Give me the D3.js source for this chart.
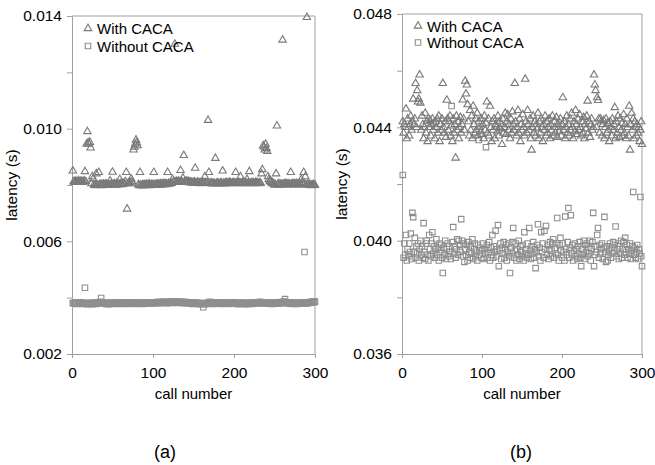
<!DOCTYPE html>
<html><head><meta charset="utf-8">
<script src="https://cdn.jsdelivr.net/npm/d3@7"></script>
<style>
body{margin:0;background:#fff}
svg{display:block}
text{font-family:"Liberation Sans",Arial,Helvetica,sans-serif;fill:#000}
</style>
</head><body>
<svg id="chart" width="655" height="465"></svg>
<script>
// ---- data (latency in milliseconds, one value per call 1..300) ----
const withCacaA = [
8.50,8.12,8.10,8.14,8.11,8.13,8.10,8.15,8.12,8.11,8.13,8.14,8.10,8.12,8.15,8.48,8.12,9.45,9.90,9.50,
9.45,9.52,9.32,8.05,8.30,8.22,8.02,7.98,8.00,8.40,8.01,7.99,8.45,8.02,8.00,8.03,7.98,8.01,8.04,8.00,
8.02,8.05,7.99,8.01,8.03,8.00,8.15,8.02,8.04,8.46,8.01,8.05,8.02,8.00,8.06,8.03,8.01,8.04,8.20,8.05,
8.03,8.02,8.07,8.04,8.05,8.12,8.45,7.15,8.05,8.07,8.10,8.08,8.22,8.12,8.05,9.25,9.35,9.45,9.60,9.50,
9.40,8.02,7.98,8.45,8.00,7.97,8.01,7.99,8.02,7.98,8.00,8.03,7.99,8.01,8.05,7.98,8.00,8.02,7.99,8.03,
8.45,8.00,8.02,7.99,8.04,8.01,8.03,8.00,8.05,8.02,8.04,8.01,8.06,8.03,8.05,8.02,8.04,8.45,8.06,8.03,
8.05,8.08,8.06,8.20,8.10,8.12,13.00,8.11,8.13,8.10,8.14,8.12,8.11,8.52,8.13,8.10,8.25,9.05,8.12,8.11,
8.14,8.10,8.13,8.12,8.09,8.11,8.08,8.10,8.07,8.09,8.11,8.60,8.08,8.06,8.10,8.07,8.09,8.05,8.08,8.06,
8.10,8.07,8.09,8.30,8.08,8.06,8.09,10.30,8.45,8.07,8.05,8.08,8.06,8.04,8.07,8.05,8.95,8.06,8.08,8.05,
8.07,8.04,8.06,8.09,8.05,8.50,8.07,8.04,8.08,8.06,8.09,8.05,8.07,8.10,8.06,8.08,8.05,8.07,8.09,8.06,
8.08,8.45,8.07,8.05,8.09,8.06,8.08,8.30,8.05,8.07,8.09,8.06,8.08,8.05,8.07,8.20,8.06,8.08,8.48,8.05,
8.07,8.09,8.06,8.08,8.05,8.07,8.10,8.06,8.08,8.05,8.07,8.09,8.06,8.40,8.55,9.40,9.35,9.25,9.45,9.30,
9.20,8.30,8.20,8.15,8.12,8.10,8.05,8.08,8.04,8.00,8.02,8.40,10.10,8.02,8.05,8.01,8.03,8.00,8.04,13.15,
8.02,8.05,8.03,8.06,8.02,8.04,8.01,8.05,8.03,8.45,8.02,8.06,8.04,8.01,8.05,8.03,8.06,8.02,8.04,8.01,
8.05,8.03,8.20,8.06,8.02,8.45,8.04,8.30,8.01,13.95,8.03,8.00,8.02,7.99,8.01,7.98,8.00,8.02,7.99,8.00];

const withoutCacaA = [
3.80,3.82,3.79,3.83,3.81,3.78,3.82,3.80,3.84,3.79,3.81,3.83,3.78,3.80,3.82,4.35,3.79,3.81,3.77,3.80,
3.78,3.82,3.79,3.81,3.77,3.80,3.83,3.79,3.81,3.78,3.82,3.80,3.84,3.81,3.85,3.99,3.82,3.80,3.83,3.79,
3.81,3.78,3.82,3.80,3.77,3.81,3.79,3.83,3.78,3.80,3.82,3.79,3.81,3.84,3.80,3.78,3.82,3.81,3.79,3.83,
3.80,3.82,3.78,3.81,3.84,3.80,3.82,3.79,3.83,3.81,3.78,3.82,3.80,3.84,3.81,3.79,3.83,3.80,3.82,3.78,
3.81,3.83,3.79,3.82,3.80,3.84,3.81,3.78,3.82,3.80,3.83,3.81,3.79,3.82,3.84,3.80,3.82,3.79,3.83,3.81,
3.84,3.82,3.80,3.83,3.81,3.85,3.82,3.80,3.84,3.81,3.83,3.86,3.82,3.84,3.81,3.85,3.83,3.80,3.84,3.82,
3.86,3.83,3.85,3.81,3.87,3.84,3.82,3.86,3.83,3.85,3.81,3.84,3.86,3.82,3.85,3.83,3.80,3.84,3.82,3.85,
3.81,3.83,3.80,3.84,3.82,3.79,3.83,3.81,3.78,3.82,3.80,3.83,3.79,3.81,3.78,3.82,3.80,3.77,3.81,3.79,
3.78,3.66,3.80,3.77,3.81,3.79,3.82,3.78,3.80,3.85,3.79,3.81,3.83,3.80,3.78,3.82,3.79,3.81,3.84,3.80,
3.82,3.79,3.83,3.81,3.78,3.82,3.80,3.84,3.81,3.79,3.83,3.80,3.82,3.78,3.81,3.83,3.79,3.82,3.80,3.84,
3.81,3.79,3.82,3.80,3.77,3.81,3.79,3.83,3.80,3.78,3.82,3.79,3.81,3.77,3.80,3.82,3.78,3.81,3.79,3.83,
3.80,3.78,3.82,3.79,3.81,3.84,3.80,3.82,3.79,3.83,3.81,3.85,3.82,3.80,3.84,3.81,3.83,3.79,3.82,3.80,
3.84,3.81,3.79,3.83,3.80,3.82,3.78,3.81,3.83,3.80,3.82,3.79,3.81,3.84,3.80,3.82,3.79,3.83,3.81,3.85,
3.82,3.86,3.95,3.83,3.80,3.84,3.81,3.79,3.83,3.80,3.82,3.78,3.81,3.83,3.79,3.82,3.80,3.78,3.81,3.79,
3.82,3.80,3.83,3.79,3.81,3.84,5.62,3.80,3.82,3.79,3.83,3.81,3.84,3.82,3.85,3.83,3.86,3.84,3.87,3.85];

const withCacaB = [
44.2,43.8,44.1,44.0,44.65,43.6,44.3,44.0,43.7,44.1,44.4,43.9,44.2,45.0,44.1,44.3,45.55,44.0,45.3,44.9,
45.0,45.85,44.86,43.9,44.4,44.1,43.6,44.0,44.5,43.8,44.2,43.5,44.3,44.0,44.25,43.7,44.1,44.3,43.9,44.15,
43.6,44.2,44.0,44.3,43.8,44.4,43.5,44.1,43.9,44.3,45.55,44.0,43.8,44.2,43.65,44.96,44.3,43.9,44.2,44.4,
43.7,44.05,43.5,44.3,43.8,44.1,42.92,44.4,43.9,44.2,43.6,44.0,44.35,43.8,44.1,44.97,44.3,43.9,45.63,45.18,
45.5,44.8,44.2,43.7,44.6,43.9,44.4,43.6,44.75,44.1,43.8,44.3,43.9,44.5,43.7,44.2,44.0,43.85,44.3,43.75,
44.1,43.6,44.4,43.9,44.15,44.9,43.8,44.3,43.7,44.75,44.0,43.5,44.2,43.9,44.3,43.6,44.1,44.0,43.85,44.4,
43.7,44.2,43.95,44.1,43.4,44.3,43.8,44.0,44.5,43.75,44.2,44.45,43.9,44.1,43.6,44.3,43.8,44.55,44.1,43.9,
45.55,44.2,43.7,44.0,44.6,43.8,44.3,43.5,44.1,43.9,44.45,44.0,43.7,45.7,44.2,43.8,44.6,44.1,43.9,44.3,
43.6,43.2,44.0,44.4,43.8,44.2,43.7,44.1,43.95,44.5,43.6,44.2,43.8,44.3,44.0,43.5,44.1,43.9,44.4,43.7,
44.2,43.8,44.0,44.3,43.6,44.1,43.9,44.4,43.7,44.2,44.0,43.8,44.35,43.65,44.1,44.0,43.85,44.3,43.7,44.1,
45.05,43.9,44.2,43.6,44.0,44.4,43.8,44.1,43.7,44.3,43.9,44.5,44.0,43.6,44.2,43.85,44.6,44.1,43.75,44.3,
43.9,44.45,44.0,43.7,44.2,43.8,44.35,43.6,44.1,43.95,44.4,44.93,43.8,44.2,43.65,44.1,44.3,43.9,44.0,45.85,
45.5,45.3,44.0,45.05,44.95,44.3,43.8,44.3,44.2,43.7,44.1,44.25,43.6,44.0,44.3,43.8,44.15,43.9,43.5,44.2,
44.0,43.7,44.3,43.9,44.1,44.7,43.6,44.2,43.8,44.4,44.0,43.65,44.3,43.9,44.15,43.7,44.45,43.8,44.1,43.6,
44.3,44.0,43.7,44.75,43.2,44.1,44.5,43.9,44.3,43.6,44.2,44.0,43.7,44.1,43.8,44.0,43.5,43.9,44.2,43.4];

const withoutCacaB = [
42.32,39.4,39.9,39.5,40.2,39.3,39.7,39.45,39.9,39.6,40.25,39.35,40.98,40.83,39.6,40.1,39.4,39.8,39.55,39.9,
39.3,39.7,40.0,39.5,39.8,39.4,40.62,39.6,39.35,39.9,40.0,39.5,39.3,40.2,39.7,39.45,39.9,40.3,39.55,39.8,
39.4,39.7,40.05,39.5,39.75,39.3,39.9,39.6,39.85,39.4,38.86,39.75,39.5,40.0,39.35,39.7,39.9,39.45,39.8,39.6,
39.35,44.75,39.95,40.48,39.55,39.8,39.4,39.7,40.05,39.5,40.0,39.85,39.6,40.76,40.0,39.45,39.9,39.25,39.7,39.5,
39.85,39.3,39.95,39.6,39.4,39.8,39.55,40.05,39.35,39.7,39.9,39.45,39.6,39.3,39.85,43.55,39.5,39.75,39.4,39.65,
39.9,39.35,39.7,39.55,43.3,39.85,39.4,39.6,39.95,39.3,39.75,39.5,40.2,39.4,39.8,39.6,40.35,39.45,39.7,40.55,
39.1,39.65,39.9,39.35,39.75,39.55,39.95,39.4,39.7,39.85,39.3,39.6,39.9,39.45,38.86,39.75,39.55,39.95,40.45,39.4,
39.65,39.9,39.3,39.7,39.5,40.0,39.35,39.8,39.6,39.45,39.85,39.3,40.3,39.55,39.7,39.4,39.9,39.5,40.45,39.65,
39.35,39.8,39.55,39.95,39.4,39.7,39.03,39.6,39.85,40.58,39.45,39.75,39.3,40.3,39.6,39.9,39.4,40.35,39.7,40.52,
39.5,39.85,39.35,39.7,39.95,39.45,39.65,39.9,40.05,39.4,39.75,39.55,39.9,40.8,39.5,39.3,39.85,40.1,39.65,39.4,
39.9,39.6,39.3,40.85,39.7,39.5,39.95,41.15,39.4,39.75,40.9,39.55,39.85,39.3,39.65,39.9,39.45,39.7,39.35,39.8,
39.55,39.95,39.4,39.1,39.7,39.5,40.0,39.35,39.85,39.6,39.9,39.45,39.75,39.55,40.0,39.3,39.7,39.95,40.98,39.1,
39.5,39.8,39.6,40.2,40.45,39.4,39.85,39.55,39.7,39.9,39.35,39.75,40.84,39.6,39.25,39.8,39.3,39.5,39.65,39.9,
39.4,39.75,39.55,39.95,39.6,39.85,40.5,39.45,39.7,39.9,39.35,39.8,39.55,40.0,39.4,39.7,39.95,39.5,40.1,39.6,
39.85,39.4,39.7,39.55,39.9,39.35,39.65,39.8,41.72,39.5,39.75,39.4,39.6,39.85,39.35,39.7,39.55,41.54,39.45,39.1];

const seriesNames = ["With CACA", "Without CACA"];
const xTicks = [0, 100, 200, 300];
const yTicksA = [0.002, 0.004, 0.006, 0.008, 0.010, 0.012, 0.014];
const yLabelsA = ["0.002", "", "0.006", "", "0.010", "", "0.014"];
const yTicksB = [0.036, 0.038, 0.040, 0.042, 0.044, 0.046, 0.048];
const yLabelsB = ["0.036", "", "0.040", "", "0.044", "", "0.048"];
const panelLabels = ["(a)", "(b)"];

// ---- drawing ----
const svg = d3.select("#chart");
const AXIS = "#a0a0a0";
const TRI = "#7a7a7a";
const SQ = "#8e8e8e";

const triPath = d3.symbol().type(d3.symbolTriangle).size(24)();
const sqPath = d3.symbol().type(d3.symbolSquare).size(30)();

function panel(o) {
  const x = d3.scaleLinear().domain([0, 300]).range([o.left, o.right]);
  const y = d3.scaleLinear().domain([o.yTicks[0], o.yTicks[o.yTicks.length - 1]]).range([o.bottom, o.top]);
  const g = svg.append("g");

  // frame (top & right)
  g.append("path").attr("fill", "none").attr("stroke", AXIS).attr("stroke-width", 1)
    .attr("d", `M${o.left},${o.top}H${o.right}V${o.bottom}`);

  const yAxis = d3.axisLeft(y).tickValues(o.yTicks).tickSize(5).tickPadding(5)
    .tickFormat((d, i) => o.yLabels[i]);
  const ya = g.append("g").attr("transform", `translate(${o.left},0)`).call(yAxis);
  const xAxis = d3.axisBottom(x).tickValues(xTicks).tickSize(4).tickPadding(9).tickFormat(d3.format("d"));
  const xa = g.append("g").attr("transform", `translate(0,${o.bottom})`).call(xAxis);
  [ya, xa].forEach(a => {
    a.select(".domain").attr("stroke", AXIS);
    a.selectAll(".tick line").attr("stroke", AXIS);
    a.selectAll(".tick text").attr("font-size", 15.5).attr("fill", "#000")
      .attr("font-family", '"Liberation Sans",Arial,sans-serif');
  });

  // points: without first, then with
  g.append("g").selectAll("path").data(o.without).join("path")
    .attr("d", sqPath).attr("fill", "none").attr("stroke", SQ).attr("stroke-width", 1.1)
    .attr("transform", (d, i) => `translate(${x(i + 1)},${y(d / 1000)})`);
  g.append("g").selectAll("path").data(o.with).join("path")
    .attr("d", triPath).attr("fill", "none").attr("stroke", TRI).attr("stroke-width", 1.1)
    .attr("transform", (d, i) => `translate(${x(i + 1)},${y(d / 1000)})`);

  // legend
  const lg = g.append("g");
  seriesNames.forEach((name, i) => {
    const cy = o.legendY[i];
    lg.append("path").attr("d", i === 0 ? triPath : sqPath).attr("fill", "none")
      .attr("stroke", i === 0 ? TRI : SQ).attr("stroke-width", 1.1)
      .attr("transform", `translate(${o.left + 16},${cy})`);
    lg.append("text").attr("x", o.left + 25).attr("y", cy + 5.5).attr("font-size", 15).text(name);
  });

  // axis titles
  g.append("text").attr("x", (o.left + o.right) / 2).attr("y", o.bottom + 45)
    .attr("text-anchor", "middle").attr("font-size", 15).text("call number");
  g.append("text").attr("transform", `translate(${o.left - 55},${(o.top + o.bottom) / 2}) rotate(-90)`)
    .attr("text-anchor", "middle").attr("font-size", 15.5).text("latency (s)");
  g.append("text").attr("x", o.labelX).attr("y", 458).attr("text-anchor", "middle")
    .attr("font-size", 18).text(o.label);
}

panel({left: 72, right: 315, top: 16, bottom: 354, yTicks: yTicksA, yLabels: yLabelsA,
  with: withCacaA, without: withoutCacaA, legendY: [28.5, 46], labelX: 165, label: panelLabels[0]});
panel({left: 402, right: 642, top: 14, bottom: 354, yTicks: yTicksB, yLabels: yLabelsB,
  with: withCacaB, without: withoutCacaB, legendY: [26, 42.5], labelX: 521, label: panelLabels[1]});
</script>
</body></html>
